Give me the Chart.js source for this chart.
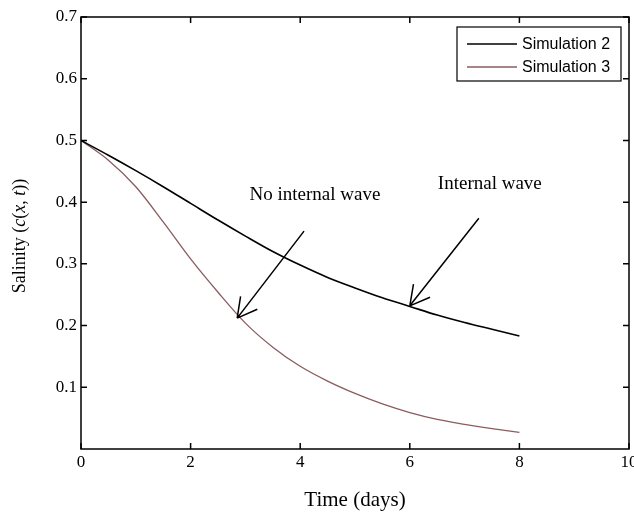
<!DOCTYPE html>
<html>
<head>
<meta charset="utf-8">
<script src="https://cdn.jsdelivr.net/npm/chart.js@4.4.0/dist/chart.umd.min.js"></script>
<style>
  html, body { margin: 0; padding: 0; background: #fff; }
  #wrap { width: 634px; height: 514px; }
</style>
</head>
<body>
<div id="wrap"><canvas id="chart1"></canvas></div>
<script>
// values
const days = [0, 0.5, 1, 1.5, 2, 2.5, 3, 3.5, 4, 4.5, 5, 5.5, 6, 6.5, 7, 7.5, 8];
const simulation2 = [0.500, 0.476, 0.451, 0.425, 0.398, 0.371, 0.345, 0.320, 0.298, 0.278, 0.261, 0.245, 0.231, 0.217, 0.205, 0.194, 0.183];
const simulation3 = [0.500, 0.468, 0.425, 0.368, 0.308, 0.254, 0.204, 0.165, 0.134, 0.110, 0.090, 0.073, 0.059, 0.048, 0.040, 0.033, 0.027];
const xTicks = [0, 2, 4, 6, 8, 10];
const yTicks = [0.1, 0.2, 0.3, 0.4, 0.5, 0.6, 0.7];
const seriesNames = ['Simulation 2', 'Simulation 3'];
const seriesColors = ['#000000', '#8a5c5e'];

// annotations, in data units
const notes = [
  { text: 'No internal wave', at: [4.27, 0.411], from: [4.07, 0.353], to: [2.85, 0.212] },
  { text: 'Internal wave', at: [7.46, 0.429], from: [7.26, 0.374], to: [6.0, 0.232] }
];

const serif = '"Liberation Serif", "Times New Roman", serif';
const sans = '"Liberation Sans", Arial, sans-serif';

const framePlugin = {
  id: 'frame',
  afterDraw(chart) {
    const ctx = chart.ctx;
    const a = chart.chartArea;
    const xs = chart.scales.x, ys = chart.scales.y;
    ctx.save();
    ctx.strokeStyle = '#000';
    ctx.lineWidth = 1.5;
    ctx.strokeRect(a.left, a.top, a.right - a.left, a.bottom - a.top);
    // inward ticks
    ctx.beginPath();
    xTicks.forEach(v => {
      const px = xs.getPixelForValue(v);
      ctx.moveTo(px, a.bottom); ctx.lineTo(px, a.bottom - 6);
      ctx.moveTo(px, a.top); ctx.lineTo(px, a.top + 6);
    });
    yTicks.forEach(v => {
      const py = ys.getPixelForValue(v);
      ctx.moveTo(a.left, py); ctx.lineTo(a.left + 6, py);
      ctx.moveTo(a.right, py); ctx.lineTo(a.right - 6, py);
    });
    ctx.stroke();

    // annotations with arrows
    ctx.lineWidth = 1.5;
    ctx.fillStyle = '#000';
    ctx.font = '19px ' + serif;
    ctx.textAlign = 'center';
    ctx.textBaseline = 'middle';
    notes.forEach(n => {
      ctx.fillText(n.text, xs.getPixelForValue(n.at[0]), ys.getPixelForValue(n.at[1]));
      const x1 = xs.getPixelForValue(n.from[0]), y1 = ys.getPixelForValue(n.from[1]);
      const x2 = xs.getPixelForValue(n.to[0]), y2 = ys.getPixelForValue(n.to[1]);
      const ang = Math.atan2(y2 - y1, x2 - x1);
      ctx.beginPath();
      ctx.moveTo(x1, y1); ctx.lineTo(x2, y2);
      [0.5, -0.5].forEach(d => {
        ctx.moveTo(x2, y2);
        ctx.lineTo(x2 - 22 * Math.cos(ang + d), y2 - 22 * Math.sin(ang + d));
      });
      ctx.stroke();
    });

    // legend
    ctx.fillStyle = '#fff';
    ctx.fillRect(457, 27, 164, 54);
    ctx.lineWidth = 1.2;
    ctx.strokeStyle = '#000';
    ctx.strokeRect(457, 27, 164, 54);
    ctx.font = '16px ' + sans;
    ctx.textAlign = 'left';
    seriesNames.forEach((name, i) => {
      const y = 44 + i * 23;
      ctx.strokeStyle = seriesColors[i];
      ctx.lineWidth = 1.5;
      ctx.beginPath(); ctx.moveTo(467, y); ctx.lineTo(517, y); ctx.stroke();
      ctx.fillStyle = '#000';
      ctx.fillText(name, 522, y + 1);
    });

    // axis titles
    ctx.font = '21px ' + serif;
    ctx.textAlign = 'center';
    ctx.fillText('Time (days)', (a.left + a.right) / 2, 500);

    const parts = [['Salinity (', false], ['c', true], ['(', false], ['x', true], [', ', false], ['t', true], ['))', false]];
    const fontFor = it => (it ? 'italic ' : '') + '18px ' + serif;
    let total = 0;
    parts.forEach(p => { ctx.font = fontFor(p[1]); total += ctx.measureText(p[0]).width; });
    ctx.translate(20, 236);
    ctx.rotate(-Math.PI / 2);
    ctx.textAlign = 'left';
    let x = -total / 2;
    parts.forEach(p => {
      ctx.font = fontFor(p[1]);
      ctx.fillText(p[0], x, 0);
      x += ctx.measureText(p[0]).width;
    });
    ctx.restore();
  }
};

new Chart('chart1', {
  type: 'line',
  data: {
    datasets: [
      {
        label: seriesNames[0],
        data: days.map((d, i) => ({ x: d, y: simulation2[i] })),
        borderColor: seriesColors[0],
        borderWidth: 1.6
      },
      {
        label: seriesNames[1],
        data: days.map((d, i) => ({ x: d, y: simulation3[i] })),
        borderColor: seriesColors[1],
        borderWidth: 1.3
      }
    ]
  },
  options: {
    responsive: true,
    maintainAspectRatio: false,
    animation: false,
    events: [],
    layout: { padding: { left: 0, top: 17, right: 5, bottom: 0 } },
    elements: {
      point: { radius: 0 },
      line: { cubicInterpolationMode: 'monotone', fill: false }
    },
    plugins: { legend: { display: false }, tooltip: { enabled: false } },
    scales: {
      x: {
        type: 'linear', min: 0, max: 10,
        afterBuildTicks: s => { s.ticks = xTicks.map(v => ({ value: v })); },
        afterFit: s => { s.height = 65; s.paddingLeft = 0; s.paddingRight = 0; },
        ticks: { color: '#000', padding: 3, maxRotation: 0, font: { family: serif, size: 17 }, callback: v => String(v) },
        grid: { display: false, drawTicks: false },
        border: { display: false }
      },
      y: {
        type: 'linear', min: 0, max: 0.7,
        afterBuildTicks: s => { s.ticks = yTicks.map(v => ({ value: v })); },
        afterFit: s => { s.width = 81; s.paddingTop = 0; s.paddingBottom = 0; },
        ticks: { color: '#000', padding: 4, font: { family: serif, size: 17 }, callback: v => v.toFixed(1) },
        grid: { display: false, drawTicks: false },
        border: { display: false }
      }
    }
  },
  plugins: [framePlugin]
});
</script>
</body>
</html>
